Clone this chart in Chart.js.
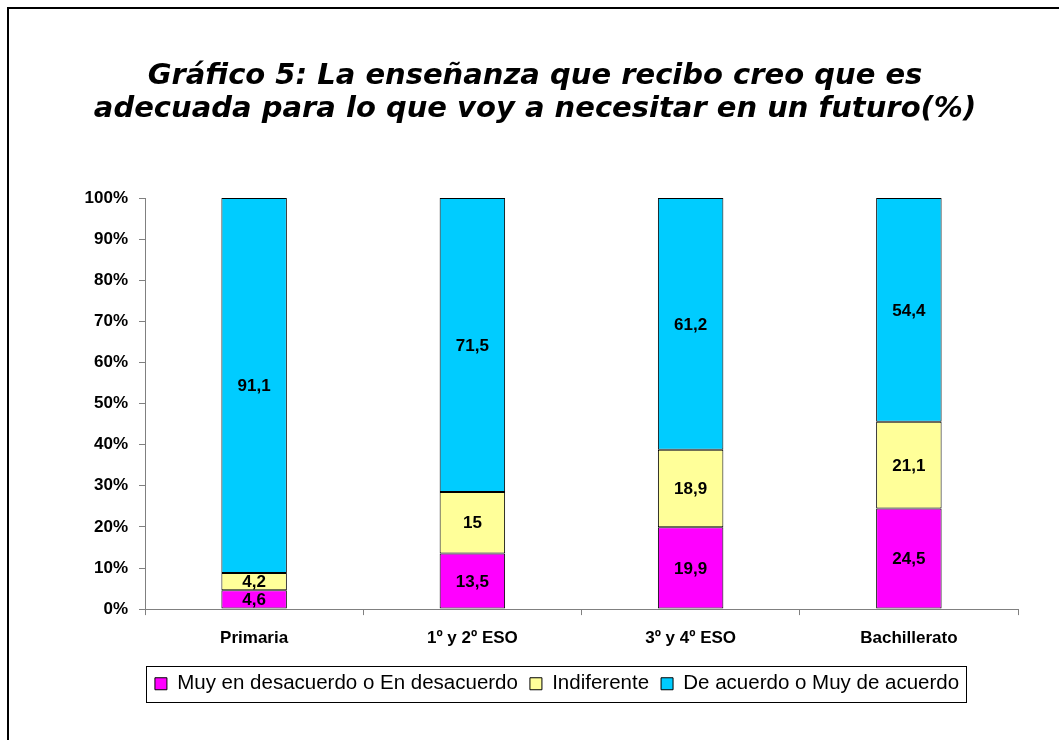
<!DOCTYPE html>
<html>
<head>
<meta charset="utf-8">
<script src="https://cdn.jsdelivr.net/npm/chart.js@4"></script>
<style>
  html, body { margin: 0; padding: 0; background: #fff; }
  #wrap { width: 1059px; height: 740px; position: relative; }
</style>
</head>
<body>
<div id="wrap"><canvas id="myChart" width="1059" height="740"></canvas></div>
<script>
// categorias y valores (%)
const categorias = ['Primaria', '1º y 2º ESO', '3º y 4º ESO', 'Bachillerato'];
const desacuerdo = [4.6, 13.5, 19.9, 24.5];
const indiferente = [4.2, 15, 18.9, 21.1];
const deAcuerdo = [91.1, 71.5, 61.2, 54.4];
const etiquetasY = ['0%', '10%', '20%', '30%', '40%', '50%', '60%', '70%', '80%', '90%', '100%'];

const series = [
    { label: 'Muy en desacuerdo o En desacuerdo', valores: desacuerdo, color: '#FF00FF' },
    { label: 'Indiferente', valores: indiferente, color: '#FFFF99' },
    { label: 'De acuerdo o Muy de acuerdo', valores: deAcuerdo, color: '#00CCFF' }
];

// 100% apilado: normalizar por el total de cada barra
const totales = categorias.map((_, i) => series.reduce((s, d) => s + d.valores[i], 0));

// etiquetas dentro de los segmentos
const etiquetasBarras = {
    id: 'etiquetasBarras',
    afterDatasetsDraw(chart) {
        const ctx = chart.ctx;
        ctx.save();
        ctx.font = 'bold 17px "Liberation Sans", Arial, sans-serif';
        ctx.fillStyle = '#000';
        ctx.textAlign = 'center';
        ctx.textBaseline = 'middle';
        chart.data.datasets.forEach((ds, di) => {
            chart.getDatasetMeta(di).data.forEach((bar, i) => {
                const y = (bar.y + bar.base) / 2;
                ctx.fillText(String(ds.raw[i]).replace('.', ','), bar.x, y + 1);
            });
        });
        ctx.restore();
    }
};

// marco del grafico y recuadro de la leyenda
const marcos = {
    id: 'marcos',
    afterLayout(chart) {
        // la leyenda va algo desplazada a la derecha
        chart.legend.left += 22;
        chart.legend.right += 22;
    },
    afterDraw(chart) {
        const ctx = chart.ctx;
        ctx.save();
        ctx.strokeStyle = '#000';
        ctx.lineWidth = 2;
        ctx.beginPath();
        ctx.moveTo(8, 740);
        ctx.lineTo(8, 8);
        ctx.lineTo(1059, 8);
        ctx.stroke();
        const boxes = chart.legend.legendHitBoxes;
        if (boxes && boxes.length) {
            const first = boxes[0], last = boxes[boxes.length - 1];
            const x1 = first.left - 9, x2 = last.left + last.width + 7;
            const y1 = first.top - 8, y2 = first.top + first.height + 7;
            ctx.lineWidth = 1;
            ctx.strokeRect(Math.round(x1) + 0.5, Math.round(y1) + 0.5, Math.round(x2 - x1), Math.round(y2 - y1));
        }
        ctx.restore();
    }
};

const ctx = document.getElementById('myChart').getContext('2d');

const myChart = new Chart(ctx, {
    type: 'bar',
    data: {
        labels: categorias,
        datasets: series.map(s => ({
            label: s.label,
            raw: s.valores,
            data: s.valores.map((v, i) => v / totales[i] * 100),
            backgroundColor: s.color,
            borderColor: '#000',
            borderWidth: 1,
            borderSkipped: false,
            barPercentage: 0.3,
            categoryPercentage: 1
        }))
    },
    options: {
        responsive: false,
        animation: false,
        layout: { padding: { left: 11, right: 0, top: 0, bottom: 36 } },
        plugins: {
            title: {
                display: true,
                text: ['Gráfico 5: La enseñanza que recibo creo que es', 'adecuada para lo que voy a necesitar en un futuro(%)'],
                color: '#000',
                font: { family: '"DejaVu Sans", Verdana, sans-serif', size: 29, style: 'italic', weight: 'bold', lineHeight: 1.14 },
                padding: { top: 60, bottom: 72 }
            },
            legend: {
                position: 'bottom',
                labels: {
                    color: '#000',
                    boxWidth: 12,
                    boxHeight: 12,
                    padding: 12,
                    font: { family: '"Liberation Sans", Arial, sans-serif', size: 20.5 }
                }
            },
            tooltip: { enabled: false }
        },
        scales: {
            x: {
                stacked: true,
                border: { color: '#808080', width: 1 },
                grid: { display: true, drawOnChartArea: false, drawTicks: true, tickLength: 6, color: '#808080' },
                ticks: {
                    color: '#000',
                    padding: 13,
                    font: { family: '"Liberation Sans", Arial, sans-serif', size: 17, weight: 'bold' }
                }
            },
            y: {
                stacked: true,
                min: 0,
                max: 100,
                afterFit(scale) { scale.width = 134; },
                border: { color: '#808080', width: 1 },
                grid: { display: true, drawOnChartArea: false, drawTicks: true, tickLength: 6, color: '#808080' },
                ticks: {
                    stepSize: 10,
                    color: '#000',
                    padding: 11,
                    font: { family: '"Liberation Sans", Arial, sans-serif', size: 17, weight: 'bold' },
                    callback: (v) => etiquetasY[Math.round(v / 10)]
                }
            },
            margenDer: {
                position: 'right',
                display: true,
                min: 0,
                max: 100,
                afterFit(scale) { scale.width = 41; },
                border: { display: false },
                grid: { display: false },
                ticks: { display: false }
            }
        }
    },
    plugins: [etiquetasBarras, marcos]
});
</script>
</body>
</html>
